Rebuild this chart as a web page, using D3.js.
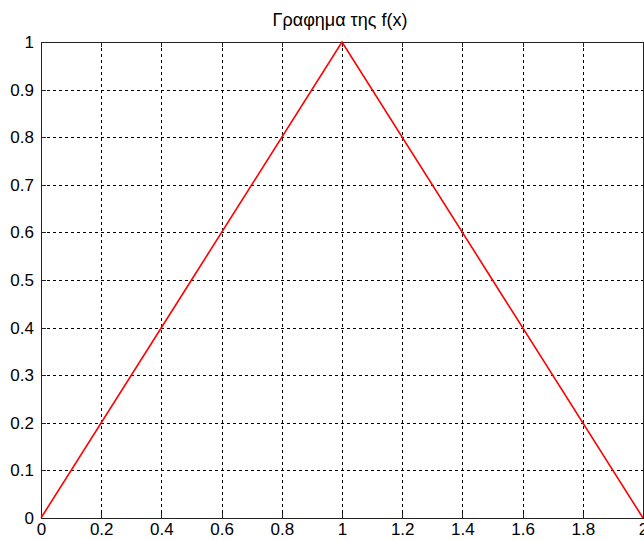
<!DOCTYPE html>
<html>
<head>
<meta charset="utf-8">
<script src="https://cdn.jsdelivr.net/npm/d3@7"></script>
<style>
  html, body { margin: 0; padding: 0; background: #fff; }
  svg { display: block; }
  text { font-family: "Liberation Sans", Arial, sans-serif; font-size: 17px; fill: #000; }
</style>
</head>
<body>
<svg id="chart" width="644" height="540"></svg>
<script>
// f(x): triangular function on [0, 2]
const xs = [0, 0.5, 1, 1.5, 2];
const ys = [0, 0.5, 1, 0.5, 0];
const xTicks = [0, 0.2, 0.4, 0.6, 0.8, 1, 1.2, 1.4, 1.6, 1.8, 2];
const yTicks = [0, 0.1, 0.2, 0.3, 0.4, 0.5, 0.6, 0.7, 0.8, 0.9, 1];
const title = "Γραφημα της f(x)";

const FONT = "Liberation Sans, Arial, sans-serif";
const svg = d3.select("#chart");
const m = { left: 41, top: 42, right: 643, bottom: 518 };

const x = d3.scaleLinear().domain([0, 2]).range([m.left, m.right]);
const y = d3.scaleLinear().domain([0, 1]).range([m.bottom, m.top]);

// dashed grid
const grid = svg.append("g").attr("stroke", "#000").attr("stroke-width", 1)
  .attr("stroke-dasharray", "3,3").attr("shape-rendering", "crispEdges");
grid.selectAll(".gx").data(xTicks.slice(1, -1)).join("line")
  .attr("x1", d => Math.round(x(d)) + 0.5).attr("x2", d => Math.round(x(d)) + 0.5)
  .attr("y1", m.top).attr("y2", m.bottom);
grid.selectAll(".gy").data(yTicks.slice(1, -1)).join("line")
  .attr("y1", d => Math.round(y(d)) + 0.5).attr("y2", d => Math.round(y(d)) + 0.5)
  .attr("x1", m.left).attr("x2", m.right);

// axes
const xAxis = d3.axisBottom(x).tickValues(xTicks).tickSize(0).tickPadding(4)
  .tickFormat(d => d3.format("~g")(d));
const yAxis = d3.axisLeft(y).tickValues(yTicks).tickSize(0).tickPadding(7)
  .tickFormat(d => d3.format("~g")(d));

const gx = svg.append("g").attr("transform", `translate(0,${m.bottom})`).call(xAxis);
const gy = svg.append("g").attr("transform", `translate(${m.left},0)`).call(yAxis);
[gx, gy].forEach(g => {
  g.select(".domain").remove();
  g.selectAll("text").style("font-family", FONT).style("font-size", "17px").attr("fill", "#1a1a3a");
});
gx.selectAll("text").attr("dy", "0.75em");

// small inward ticks
const tk = svg.append("g").attr("stroke", "#222").attr("shape-rendering", "crispEdges");
tk.selectAll(".tb").data(xTicks).join("line")
  .attr("x1", d => Math.round(x(d)) + 0.5).attr("x2", d => Math.round(x(d)) + 0.5)
  .attr("y1", m.bottom).attr("y2", m.bottom - 5);
tk.selectAll(".tt").data(xTicks).join("line")
  .attr("x1", d => Math.round(x(d)) + 0.5).attr("x2", d => Math.round(x(d)) + 0.5)
  .attr("y1", m.top).attr("y2", m.top + 5);
tk.selectAll(".tl").data(yTicks).join("line")
  .attr("y1", d => Math.round(y(d)) + 0.5).attr("y2", d => Math.round(y(d)) + 0.5)
  .attr("x1", m.left).attr("x2", m.left + 5);

// frame
svg.append("rect")
  .attr("x", m.left + 0.5).attr("y", m.top + 0.5)
  .attr("width", m.right - m.left).attr("height", m.bottom - m.top)
  .attr("fill", "none").attr("stroke", "#222").attr("stroke-width", 1.3)
  .attr("shape-rendering", "crispEdges");

// the function
const line = d3.line().x((d, i) => x(xs[i])).y(d => y(d));
svg.append("path").datum(ys)
  .attr("d", line)
  .attr("fill", "none").attr("stroke", "#ff0000").attr("stroke-width", 1.6);

// title
svg.append("text").attr("x", 340).attr("y", 26)
  .attr("text-anchor", "middle").style("font-family", FONT).style("font-size", "18px")
  .attr("fill", "#1a1a3a").text(title);
</script>
</body>
</html>
